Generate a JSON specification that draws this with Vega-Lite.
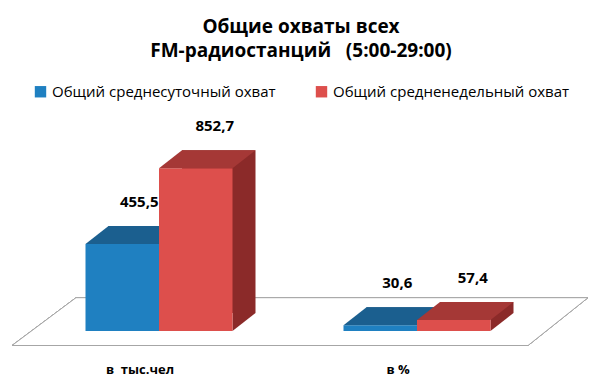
{
  "$schema": "https://vega.github.io/schema/vega-lite/v6.json",
  "width": 516,
  "height": 191,
  "autosize": {"type": "none"},
  "padding": {"left": 30, "top": 140, "right": 54, "bottom": 57},
  "background": "white",
  "config": {
    "locale": {"number": {"decimal": ",", "thousands": "\u00a0", "grouping": [3], "currency": ["", ""]}},
    "view": {"stroke": null},
    "font": "Open Sans"
  },
  "title": {
    "text": ["Общие охваты всех", "FM-радиостанций\u00a0\u00a0\u00a0(5:00-29:00)"],
    "fontSize": 19,
    "fontWeight": "bold",
    "color": "#000000",
    "anchor": "middle",
    "offset": 23,
    "dx": 13,
    "lineHeight": 24
  },
  "data": {
    "values": [
      {"group": "в\u00a0\u00a0тыс.чел", "series": "Общий среднесуточный охват", "value": 455.5},
      {"group": "в\u00a0\u00a0тыс.чел", "series": "Общий средненедельный охват", "value": 852.7},
      {"group": "в %", "series": "Общий среднесуточный охват", "value": 30.6},
      {"group": "в %", "series": "Общий средненедельный охват", "value": 57.4}
    ]
  },
  "encoding": {
    "y": {"field": "value", "type": "quantitative", "scale": {"domain": [0, 1000]}, "axis": null}
  },
  "layer": [
    {
      "mark": {"type": "point", "shape": "M-212,-33.3 L300,-33.3 L240,14.5 L-276,14.5 Z", "size": 4, "filled": true, "fill": "white", "stroke": "#a6a6a6", "strokeWidth": 1, "opacity": 1, "fillOpacity": 1, "strokeOpacity": 1},
      "encoding": {"y": {"datum": 0, "type": "quantitative"}}
    },
    {
      "transform": [{"filter": "datum.series === 'Общий среднесуточный охват'"}],
      "mark": {"type": "bar", "width": 73.5, "xOffset": -13.75, "yOffset": -18, "y2Offset": -18, "color": "#174f7a"},
      "encoding": {
        "x": {"field": "group", "type": "nominal", "sort": null, "scale": {"paddingInner": 0.43, "paddingOuter": 0.215},
              "axis": {"title": null, "domain": false, "ticks": false, "labelAngle": 0, "labelFontSize": 13, "labelFontWeight": "bold", "labelColor": "#000000", "labelOffset": -19, "labelPadding": 32}}
      }
    },
    {
      "transform": [{"filter": "datum.series === 'Общий среднесуточный охват'"}],
      "mark": {"type": "point", "shape": "M36.75,0 L36.75,-18 L59.75,-18 Z", "size": 4, "filled": true, "color": "#174f7a", "opacity": 1, "strokeWidth": 0, "xOffset": -36.75},
      "encoding": {
        "x": {"field": "group", "type": "nominal", "sort": null},
        "y": {"datum": 0, "type": "quantitative"}
      }
    },
    {
      "transform": [{"filter": "datum.series === 'Общий среднесуточный охват'"}],
      "mark": {"type": "bar", "width": 73.5, "xOffset": -36.75},
      "encoding": {
        "x": {"field": "group", "type": "nominal", "sort": null},
        "color": {"field": "series", "type": "nominal",
                  "scale": {"domain": ["Общий среднесуточный охват", "Общий средненедельный охват"], "range": ["#1f80c1", "#dd4f4c"]},
                  "legend": {"orient": "none", "legendX": 3, "legendY": -56, "direction": "horizontal", "title": null, "symbolType": "square", "symbolSize": 130, "symbolStrokeWidth": 0, "labelFontSize": 15, "labelLimit": 400, "labelColor": "#000000", "columnPadding": 38, "labelOffset": 4}}
      }
    },
    {
      "transform": [{"filter": "datum.series === 'Общий среднесуточный охват'"}],
      "mark": {"type": "point", "shape": "M-36.75,0 L36.75,0 L59.75,-18 L-13.75,-18 Z", "size": 4, "filled": true, "color": "#1b5f8f", "opacity": 1, "strokeWidth": 0, "xOffset": -36.75},
      "encoding": {"x": {"field": "group", "type": "nominal", "sort": null}}
    },
    {
      "transform": [{"filter": "datum.series === 'Общий средненедельный охват'"}],
      "mark": {"type": "bar", "width": 73.5, "xOffset": 59.75, "yOffset": -18, "y2Offset": -18, "color": "#8b2a29"},
      "encoding": {"x": {"field": "group", "type": "nominal", "sort": null}}
    },
    {
      "transform": [{"filter": "datum.series === 'Общий средненедельный охват'"}],
      "mark": {"type": "point", "shape": "M36.75,0 L36.75,-18 L59.75,-18 Z", "size": 4, "filled": true, "color": "#8b2a29", "opacity": 1, "strokeWidth": 0, "xOffset": 36.75},
      "encoding": {
        "x": {"field": "group", "type": "nominal", "sort": null},
        "y": {"datum": 0, "type": "quantitative"}
      }
    },
    {
      "transform": [{"filter": "datum.series === 'Общий средненедельный охват'"}],
      "mark": {"type": "bar", "width": 73.5, "xOffset": 36.75},
      "encoding": {
        "x": {"field": "group", "type": "nominal", "sort": null},
        "color": {"field": "series", "type": "nominal"}
      }
    },
    {
      "transform": [{"filter": "datum.series === 'Общий средненедельный охват'"}],
      "mark": {"type": "point", "shape": "M-36.75,0 L36.75,0 L59.75,-18 L-13.75,-18 Z", "size": 4, "filled": true, "color": "#a53836", "opacity": 1, "strokeWidth": 0, "xOffset": 36.75},
      "encoding": {"x": {"field": "group", "type": "nominal", "sort": null}}
    },
    {
      "transform": [{"filter": "datum.series === 'Общий среднесуточный охват'"}],
      "mark": {"type": "text", "xOffset": -36.75, "dx": 17, "dy": -42, "fontSize": 15, "fontWeight": "bold", "color": "#000000"},
      "encoding": {
        "x": {"field": "group", "type": "nominal", "sort": null},
        "text": {"field": "value", "type": "quantitative", "format": ".1f"}
      }
    },
    {
      "transform": [{"filter": "datum.series === 'Общий средненедельный охват'"}],
      "mark": {"type": "text", "xOffset": 36.75, "dx": 19, "dy": -42, "fontSize": 15, "fontWeight": "bold", "color": "#000000"},
      "encoding": {
        "x": {"field": "group", "type": "nominal", "sort": null},
        "text": {"field": "value", "type": "quantitative", "format": ".1f"}
      }
    }
  ]
}
